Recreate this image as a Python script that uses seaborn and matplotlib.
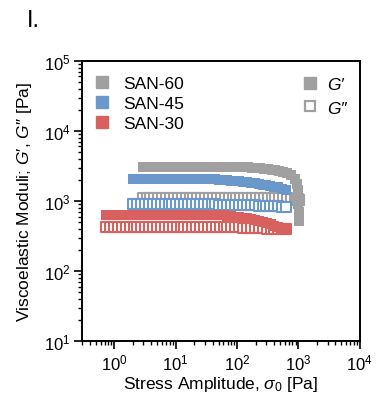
import matplotlib
matplotlib.use("Agg")
import matplotlib.pyplot as plt
import seaborn as sns
import pandas as pd
from matplotlib.lines import Line2D

# ---------------- data ----------------
samples = ["SAN-60", "SAN-45", "SAN-30"]
colors = {"SAN-60": "#a0a0a0", "SAN-45": "#6b98cb", "SAN-30": "#d8615f"}

stress_60 = [2.9, 3.4, 3.9, 4.5, 5.2, 6.0, 7.0, 8.1, 9.4, 10.9, 12.6, 14.6, 16.9,
             19.5, 22.6, 26.2, 30.3, 35.1, 40.6, 47.0, 54.4, 63.0, 72.9, 84.4,
             97.7, 113, 131, 152, 176, 203, 235, 272, 315, 365, 422, 489, 566,
             655, 758, 877, 940, 970, 990, 1000, 1010, 1020]
gp_60 = [3040, 3050, 3050, 3060, 3060, 3060, 3070, 3070, 3070, 3070, 3080, 3080,
         3080, 3080, 3080, 3080, 3080, 3080, 3080, 3070, 3070, 3070, 3060, 3060,
         3050, 3040, 3030, 3020, 3000, 2970, 2940, 2900, 2850, 2800, 2740, 2680,
         2600, 2500, 2330, 2080, 1750, 1450, 1150, 900, 700, 520]
gpp_60 = [1090, 1100, 1100, 1100, 1110, 1110, 1110, 1110, 1110, 1110, 1110, 1110,
          1110, 1110, 1110, 1110, 1110, 1110, 1110, 1110, 1110, 1110, 1110, 1110,
          1110, 1110, 1110, 1110, 1110, 1110, 1110, 1100, 1100, 1100, 1100, 1100,
          1090, 1090, 1080, 1080, 1070, 1060, 1050, 1040, 1030, 1020]

stress_45 = [2.05, 2.37, 2.75, 3.18, 3.69, 4.27, 4.94, 5.72, 6.63, 7.67, 8.89,
             10.3, 11.9, 13.8, 16.0, 18.5, 21.4, 24.8, 28.7, 33.3, 38.5, 44.6,
             51.7, 59.8, 69.3, 80.2, 92.9, 108, 125, 144, 167, 194, 224, 260,
             301, 348, 403, 467, 541, 626]
gp_45 = [2060, 2060, 2060, 2060, 2060, 2060, 2060, 2060, 2060, 2060, 2060, 2060,
         2060, 2060, 2060, 2060, 2060, 2060, 2060, 2060, 2050, 2040, 2020, 2000,
         1980, 1950, 1930, 1900, 1870, 1840, 1810, 1780, 1750, 1720, 1690, 1650,
         1610, 1560, 1500, 1430]
gpp_45 = [900, 900, 900, 900, 900, 900, 900, 900, 900, 900, 900, 900, 900, 900,
          900, 900, 900, 900, 900, 900, 895, 895, 890, 890, 890, 885, 885, 880,
          880, 875, 870, 865, 860, 855, 850, 845, 840, 835, 830, 825]

stress_30 = [0.740, 0.857, 0.993, 1.150, 1.331, 1.542, 1.785, 2.067, 2.394, 2.772,
             3.210, 3.717, 4.305, 4.985, 5.772, 6.684, 7.741, 8.964, 10.38, 12.02,
             13.92, 16.12, 18.67, 21.62, 25.03, 28.99, 33.57, 38.87, 45.02, 52.13,
             60.37, 69.91, 80.95, 93.74, 108.6, 125.7, 145.6, 168.6, 195.2, 226.0,
             261.8, 303.1, 351.0, 406.5, 470.7, 545.1, 631.0]
gp_30 = [640, 640, 640, 640, 640, 640, 640, 640, 640, 640, 640, 640, 640, 640,
         640, 640, 640, 640, 640, 640, 640, 640, 640, 640, 640, 640, 638, 635,
         632, 628, 624, 618, 610, 600, 590, 578, 565, 550, 535, 520, 505, 485,
         465, 445, 425, 405, 385]
gpp_30 = [425, 425, 425, 425, 425, 425, 425, 425, 425, 425, 425, 425, 425, 425,
          425, 425, 425, 425, 425, 425, 425, 425, 425, 425, 425, 425, 425, 425,
          425, 425, 424, 423, 422, 421, 420, 418, 416, 414, 412, 410, 408, 405,
          402, 400, 398, 396, 394]

series = {
    "SAN-60": (stress_60, gp_60, gpp_60),
    "SAN-45": (stress_45, gp_45, gpp_45),
    "SAN-30": (stress_30, gp_30, gpp_30),
}

rows = []
for s in samples:
    x, gp, gpp = series[s]
    for xi, a, b in zip(x, gp, gpp):
        rows.append({"sample": s, "stress": xi, "Gp": a, "Gpp": b})
df = pd.DataFrame(rows)

# ---------------- style ----------------
sns.set_style("ticks")
plt.rcParams["font.family"] = ["Liberation Sans", "DejaVu Sans"]
plt.rcParams["mathtext.fontset"] = "custom"
plt.rcParams["mathtext.rm"] = "Liberation Sans"
plt.rcParams["mathtext.it"] = "Liberation Sans:italic"
plt.rcParams["mathtext.bf"] = "Liberation Sans:bold"
plt.rcParams["text.color"] = "black"
plt.rcParams["axes.labelcolor"] = "black"
plt.rcParams["xtick.color"] = "black"
plt.rcParams["ytick.color"] = "black"

fig = plt.figure(figsize=(3.8, 4.02), dpi=100)
ax = fig.add_axes([0.216, 0.149, 0.731, 0.697])

msize = 55
for s in samples:
    sub = df[df["sample"] == s]
    sns.scatterplot(data=sub, x="stress", y="Gpp", ax=ax, marker="s", s=msize * 0.85,
                    facecolor="white", edgecolor=colors[s], linewidth=1.5,
                    legend=False, zorder=2)
    sns.scatterplot(data=sub, x="stress", y="Gp", ax=ax, marker="s", s=msize,
                    color=colors[s], edgecolor=colors[s], linewidth=0.0,
                    legend=False, zorder=3)

ax.set_xscale("log")
ax.set_yscale("log")
ax.set_xlim(0.3, 1e4)
ax.set_ylim(10, 1e5)

for side in ["top", "right", "left", "bottom"]:
    ax.spines[side].set_visible(True)
    ax.spines[side].set_linewidth(1.4)
    ax.spines[side].set_color("black")

ax.tick_params(which="major", direction="out", length=6, width=1.2,
               labelsize=12, top=False, right=False, pad=2,
               colors="black", labelcolor="black")
ax.tick_params(which="minor", direction="out", length=3, width=1.0,
               top=False, right=False, colors="black")

ax.set_xlabel(r"Stress Amplitude, $\sigma_0$ [Pa]", fontsize=12.5, labelpad=1)
ax.set_ylabel("Viscoelastic Moduli; $G$′, $G$″ [Pa]", fontsize=12.5, labelpad=7)

# legends
h1 = [Line2D([], [], marker="s", linestyle="none", markersize=8,
             markerfacecolor=colors[s], markeredgecolor=colors[s]) for s in samples]
leg1 = ax.legend(h1, samples, loc="upper left", frameon=False, fontsize=12.5,
                 handlelength=0.8, handletextpad=0.85, labelspacing=0.27,
                 borderaxespad=0.0, bbox_to_anchor=(0.02, 0.971))
ax.add_artist(leg1)

h2 = [Line2D([], [], marker="s", linestyle="none", markersize=8.5,
             markerfacecolor=colors["SAN-60"], markeredgecolor=colors["SAN-60"]),
      Line2D([], [], marker="s", linestyle="none", markersize=7.5,
             markerfacecolor="white", markeredgecolor=colors["SAN-60"],
             markeredgewidth=1.6)]
leg2 = ax.legend(h2, ["G′", "G″"], loc="upper right", frameon=False,
                 handlelength=0.8, handletextpad=0.6, labelspacing=0.47,
                 borderaxespad=0.0, bbox_to_anchor=(0.979, 0.967),
                 prop={"size": 12.5, "style": "italic"})

fig.text(0.07, 0.975, "I.", fontsize=17, va="top", ha="left")

fig.savefig("out.png", dpi=100)
